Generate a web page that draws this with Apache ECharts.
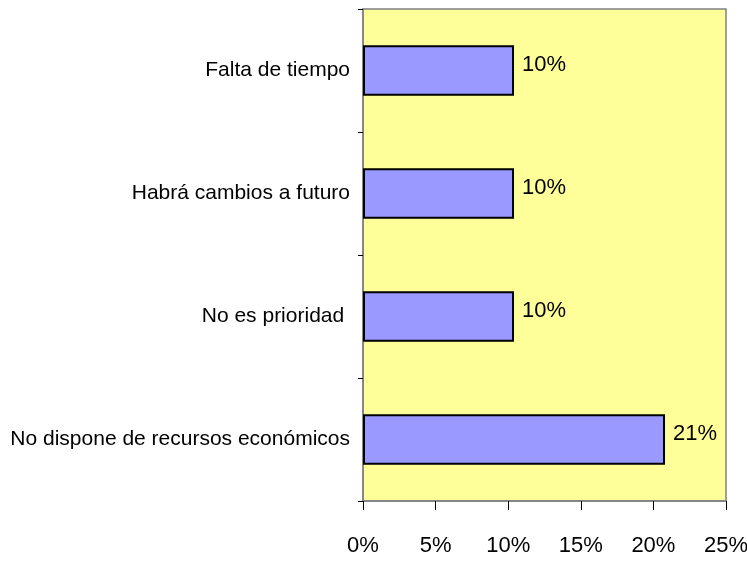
<!DOCTYPE html>
<html>
<head>
<meta charset="utf-8">
<script src="https://cdn.jsdelivr.net/npm/echarts@6/dist/echarts.min.js"></script>
<style>
  html, body { margin: 0; padding: 0; background: #fff; }
  #chart { width: 747px; height: 563px; }
</style>
</head>
<body>
<div id="chart"></div>
<script>
// categories from bottom to top
const categories = ['No dispone de recursos económicos', 'No es prioridad ', 'Habrá cambios a futuro', 'Falta de tiempo'];
const values = [20.8, 10.4, 10.4, 10.4];
const xTicks = [0, 5, 10, 15, 20, 25];

const font = '"Liberation Sans", Arial, sans-serif';
const fsize = 22;

let myChart = echarts.init(document.getElementById('chart'));
let option = {
  animation: false,
  grid: {
    left: 363, right: 21, top: 9, bottom: 62,
    outerBoundsMode: 'none',
    containLabel: false,
    show: true,
    backgroundColor: '#FFFF99',
    borderColor: '#808080',
    borderWidth: 1.5
  },
  xAxis: {
    type: 'value',
    min: xTicks[0],
    max: xTicks[xTicks.length - 1],
    interval: 5,
    splitLine: {show: false},
    axisLine: {show: true, lineStyle: {color: '#808080', width: 1.5}},
    axisTick: {show: true, length: 9, lineStyle: {color: '#000'}},
    axisLabel: {
      formatter: '{value}%',
      color: '#000',
      fontFamily: font,
      fontSize: fsize,
      margin: 34,
      hideOverlap: false,
      showMinLabel: true,
      showMaxLabel: true
    }
  },
  yAxis: {
    type: 'category',
    data: categories,
    axisLine: {show: true, lineStyle: {color: '#808080', width: 1.5}},
    axisTick: {show: true, length: 5, lineStyle: {color: '#000'}},
    axisLabel: {
      color: '#000',
      fontFamily: font,
      fontSize: 21,
      margin: 13
    }
  },
  series: [{
    type: 'bar',
    data: values,
    barCategoryGap: '59%',
    itemStyle: {color: '#9999FF', borderColor: '#000', borderWidth: 2},
    label: {
      show: true,
      position: 'right',
      distance: 8,
      offset: [0, -6],
      color: '#000',
      fontFamily: font,
      fontSize: fsize,
      formatter: (p) => Math.round(p.value) + '%'
    }
  }]
};
myChart.setOption(option);
</script>
</body>
</html>
